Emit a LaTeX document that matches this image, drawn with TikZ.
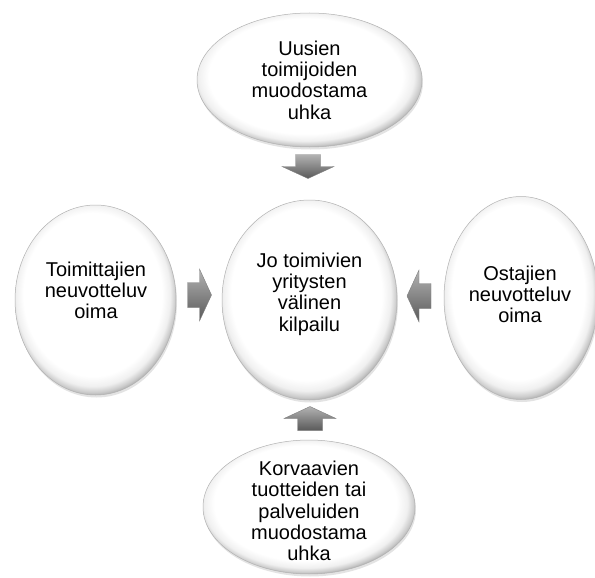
\documentclass[tikz,border=0pt]{standalone}
\usepackage{fontspec}
\setmainfont{Liberation Sans}
\usetikzlibrary{shapes.geometric,shadows}
\pgfdeclareradialshading{bubbleshade}{\pgfqpoint{-1.5bp}{2.5bp}}{%
  color(0bp)=(white); color(21.5bp)=(white); color(24bp)=(black!6);
  color(25.5bp)=(black!20); color(27bp)=(black!40); color(29bp)=(black!50); color(50bp)=(black!50)}
\begin{document}
\begin{tikzpicture}[x=1pt,y=-1pt,
  bubble/.style={ellipse, inner sep=0pt, shade, shading=bubbleshade, draw=black!30, line width=0.5pt,
    drop shadow={shadow xshift=1pt, shadow yshift=-2.5pt, opacity=0.22}},
  txt/.style={align=center, font=\fontsize{20}{21.3}\selectfont, inner sep=0pt},
  arrowshade/.style={top color=black!30, bottom color=black!65, draw=black!50, line width=0.4pt},
  blockarrow/.pic={\path[arrowshade] (-12,-12.5) -- (0,-12.5) -- (0,-26) -- (12,0) -- (0,26) -- (0,12.5) -- (-12,12.5) -- cycle;}]
\useasboundingbox (0,0) rectangle (595,578);
\fill[white] (0,0) rectangle (595,578);
% ellipses
\node[bubble, minimum width=225pt, minimum height=134pt] (topE) at (309.5,80) {};
\node[bubble, minimum width=161pt, minimum height=190pt] (leftE) at (95.5,300) {};
\node[bubble, minimum width=175pt, minimum height=200pt] (midE) at (309.5,300) {};
\node[bubble, minimum width=154pt, minimum height=203pt] (rightE) at (521,298) {};
\node[bubble, minimum width=212pt, minimum height=134pt] (botE) at (309,507) {};
% texts
\node[txt] (topT) at (309.5,80) {Uusien\\toimijoiden\\muodostama\\uhka};
\node[txt] (leftT) at (96,290.5) {Toimittajien\\neuvotteluv\\oima};
\node[txt] (midT) at (309.5,294) {Jo toimivien\\yritysten\\välinen\\kilpailu};
\node[txt] (rightT) at (520,294.5) {Ostajien\\neuvotteluv\\oima};
\node[txt] (botT) at (309,511) {Korvaavien\\tuotteiden tai\\palveluiden\\muodostama\\uhka};
% arrows
\coordinate (aTop) at (308,166.5);
\coordinate (aLeft) at (199.5,295);
\coordinate (aRight) at (419,296);
\coordinate (aBot) at (310,418.5);
\pic[rotate=-90] at (aTop) {blockarrow};
\pic[rotate=0] at (aLeft) {blockarrow};
\pic[rotate=180] at (aRight) {blockarrow};
\pic[rotate=90] at (aBot) {blockarrow};
\end{tikzpicture}
\end{document}
